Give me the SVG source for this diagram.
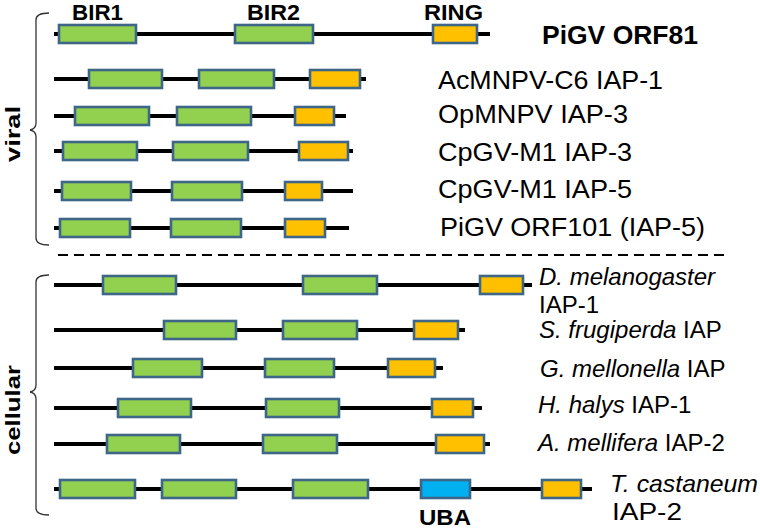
<svg xmlns="http://www.w3.org/2000/svg" width="760" height="529" viewBox="0 0 760 529">
<style>
.bb{stroke:#000;stroke-width:4;fill:none}
.g{fill:#92D050;stroke:#3E6688;stroke-width:2.6}
.o{fill:#FFC000;stroke:#3E6688;stroke-width:2.6}
.b{fill:#00B0F0;stroke:#3E6688;stroke-width:2.6}
.br{fill:none;stroke:#333;stroke-width:1.3}
.lbl{font-family:"Liberation Sans",Arial,sans-serif;font-size:24px;fill:#000}
.vl{font-size:25px}
.bold{font-family:"Liberation Sans",Arial,sans-serif;font-weight:bold;fill:#000}
.it{font-style:italic}
</style>
<rect width="760" height="529" fill="#fff"/>
<g id="connectors">
<line class="bb" x1="54" y1="34" x2="490" y2="34"/>
<line class="bb" x1="54" y1="79" x2="366" y2="79"/>
<line class="bb" x1="54" y1="116" x2="346" y2="116"/>
<line class="bb" x1="54" y1="151" x2="353" y2="151"/>
<line class="bb" x1="54" y1="191" x2="353" y2="191"/>
<line class="bb" x1="54" y1="228" x2="349" y2="228"/>
<line class="bb" x1="54" y1="285" x2="532" y2="285"/>
<line class="bb" x1="54" y1="330" x2="465" y2="330"/>
<line class="bb" x1="54" y1="368" x2="443" y2="368"/>
<line class="bb" x1="54" y1="408" x2="482" y2="408"/>
<line class="bb" x1="54" y1="444" x2="490" y2="444"/>
<line class="bb" x1="54" y1="489" x2="592" y2="489"/>
<line x1="58" y1="255" x2="728" y2="255" stroke="#000" stroke-width="2" stroke-dasharray="10 6"/>
</g>
<g id="braces">
<path class="br" d="M49,13 Q36,13 36,20 L36,123 Q36,129 30,130 Q36,131 36,137 L36,238 Q36,245 49,245"/>
<path class="br" d="M49,275 Q36,275 36,282 L36,385 Q36,391 30,392 Q36,393 36,399 L36,508 Q36,515 49,515"/>
<text class="bold" font-size="21" text-anchor="middle" transform="translate(20,134) rotate(-90)" textLength="56" lengthAdjust="spacingAndGlyphs">viral</text>
<text class="bold" font-size="21" text-anchor="middle" transform="translate(20,410) rotate(-90)" textLength="90" lengthAdjust="spacingAndGlyphs">cellular</text>
</g>
<g id="domain-labels">
<text class="bold" font-size="22" x="72" y="20" textLength="51" lengthAdjust="spacingAndGlyphs">BIR1</text>
<text class="bold" font-size="22" x="247" y="20" textLength="53" lengthAdjust="spacingAndGlyphs">BIR2</text>
<text class="bold" font-size="22" x="424" y="20" textLength="59" lengthAdjust="spacingAndGlyphs">RING</text>
</g>
<g id="row-pigv-orf81">
<rect class="g" x="59" y="25" width="77" height="18"/>
<rect class="g" x="235" y="25" width="78" height="18"/>
<rect class="o" x="433" y="25" width="44" height="18"/>
<text class="bold" font-size="25" x="542" y="44" textLength="156" lengthAdjust="spacingAndGlyphs">PiGV ORF81</text>
</g>
<g id="row-acmnpv">
<rect class="g" x="89" y="70" width="73" height="18"/>
<rect class="g" x="199" y="70" width="75" height="18"/>
<rect class="o" x="310" y="70" width="50" height="18"/>
<text class="lbl vl" x="438" y="89" textLength="225" lengthAdjust="spacingAndGlyphs">AcMNPV-C6 IAP-1</text>
</g>
<g id="row-opmnpv">
<rect class="g" x="75" y="107" width="74" height="18"/>
<rect class="g" x="177" y="107" width="74" height="18"/>
<rect class="o" x="295" y="107" width="39" height="18"/>
<text class="lbl vl" x="438" y="123" textLength="190" lengthAdjust="spacingAndGlyphs">OpMNPV IAP-3</text>
</g>
<g id="row-cpgv-iap3">
<rect class="g" x="63" y="142" width="74" height="18"/>
<rect class="g" x="173" y="142" width="75" height="18"/>
<rect class="o" x="299" y="142" width="49" height="18"/>
<text class="lbl vl" x="438" y="161" textLength="194" lengthAdjust="spacingAndGlyphs">CpGV-M1 IAP-3</text>
</g>
<g id="row-cpgv-iap5">
<rect class="g" x="62" y="182" width="69" height="18"/>
<rect class="g" x="172" y="182" width="70" height="18"/>
<rect class="o" x="285" y="182" width="37" height="18"/>
<text class="lbl vl" x="438" y="198" textLength="194" lengthAdjust="spacingAndGlyphs">CpGV-M1 IAP-5</text>
</g>
<g id="row-pigv-orf101">
<rect class="g" x="60" y="219" width="70" height="18"/>
<rect class="g" x="171" y="219" width="70" height="18"/>
<rect class="o" x="285" y="219" width="40" height="18"/>
<text class="lbl vl" x="440" y="236" textLength="265" lengthAdjust="spacingAndGlyphs">PiGV ORF101 (IAP-5)</text>
</g>
<g id="row-dmel">
<rect class="g" x="103" y="276" width="73" height="18"/>
<rect class="g" x="303" y="276" width="74" height="18"/>
<rect class="o" x="480" y="276" width="43" height="18"/>
<text class="lbl it" x="539" y="285">D. melanogaster</text>
<text class="lbl" x="539" y="313">IAP-1</text>
</g>
<g id="row-sfru">
<rect class="g" x="164" y="321" width="72" height="18"/>
<rect class="g" x="283" y="321" width="74" height="18"/>
<rect class="o" x="414" y="321" width="44" height="18"/>
<text class="lbl" x="539" y="338"><tspan class="it">S. frugiperda</tspan> IAP</text>
</g>
<g id="row-gmel">
<rect class="g" x="133" y="359" width="69" height="18"/>
<rect class="g" x="265" y="359" width="69" height="18"/>
<rect class="o" x="388" y="359" width="47" height="18"/>
<text class="lbl" x="540" y="377"><tspan class="it">G. mellonella</tspan> IAP</text>
</g>
<g id="row-hhal">
<rect class="g" x="118" y="399" width="73" height="18"/>
<rect class="g" x="266" y="399" width="73" height="18"/>
<rect class="o" x="432" y="399" width="41" height="18"/>
<text class="lbl" x="538" y="413"><tspan class="it">H. halys</tspan> IAP-1</text>
</g>
<g id="row-amel">
<rect class="g" x="107" y="435" width="73" height="18"/>
<rect class="g" x="263" y="435" width="74" height="18"/>
<rect class="o" x="436" y="435" width="48" height="18"/>
<text class="lbl" x="538" y="451"><tspan class="it">A. mellifera</tspan> IAP-2</text>
</g>
<g id="row-tcas">
<rect class="g" x="60" y="480" width="75" height="18"/>
<rect class="g" x="162" y="480" width="74" height="18"/>
<rect class="g" x="293" y="480" width="75" height="18"/>
<rect class="b" x="421" y="480" width="49" height="18"/>
<rect class="o" x="542" y="480" width="39" height="18"/>
<text class="lbl it" x="610" y="492" textLength="148" lengthAdjust="spacingAndGlyphs">T. castaneum</text>
<text class="lbl" x="612" y="520" textLength="70" lengthAdjust="spacingAndGlyphs">IAP-2</text>
<text class="bold" font-size="22" x="419" y="525" textLength="52" lengthAdjust="spacingAndGlyphs">UBA</text>
</g>
</svg>
